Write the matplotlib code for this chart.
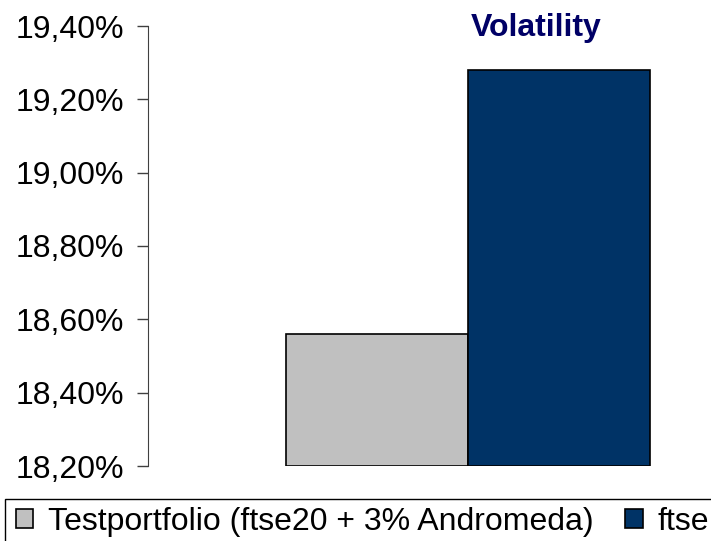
import matplotlib.pyplot as plt
from matplotlib.patches import Rectangle
from matplotlib.ticker import FuncFormatter

plt.rcParams['font.family'] = ['Liberation Sans', 'DejaVu Sans']

series = ["Testportfolio (ftse20 + 3% Andromeda)", "ftse"]
volatility = [18.56, 19.28]
colors = ["#c0c0c0", "#003366"]
title = "Volatility"

fig = plt.figure(figsize=(7.11, 5.41), dpi=100)
ax = fig.add_axes([148 / 711, 75 / 541, (711 - 148) / 711, 440 / 541])

base = 18.20
offsets = [-0.5, 0.5]
for off, val, col, lab in zip(offsets, volatility, colors, series):
    ax.bar(off, val - base, bottom=base, width=1.0, color=col,
           edgecolor="black", linewidth=1.2, label=lab)

ax.set_xlim(-320 / 182, 243 / 182)
ax.set_ylim(18.20, 19.40)
ax.set_yticks([18.2, 18.4, 18.6, 18.8, 19.0, 19.2, 19.4])
ax.yaxis.set_major_formatter(FuncFormatter(lambda v, p: f"{v:.2f}%".replace(".", ",")))
ax.tick_params(axis="y", labelsize=23, length=8, width=1, color="#404040", pad=9)
ax.set_xticks([])
for s in ["top", "right", "bottom"]:
    ax.spines[s].set_visible(False)
ax.spines["left"].set_color("#404040")

fig.text(536 / 711, 1 - 28 / 541, title, ha="center", va="center",
         fontsize=23, fontweight="bold", color="#000066")

# legend box running off the right edge
fig.patches.append(Rectangle((5 / 711, -0.01), 1.0, (541 - 499) / 541 + 0.01,
                             transform=fig.transFigure, fill=False,
                             edgecolor="black", linewidth=1))
fig.legend(loc="center left", bbox_to_anchor=(3 / 711, 1 - 522 / 541), ncol=2,
           frameon=False, fontsize=23, handlelength=0.55, handleheight=0.55,
           handletextpad=0.45, columnspacing=1.0, borderaxespad=0)

fig.savefig("out.png", dpi=100)
